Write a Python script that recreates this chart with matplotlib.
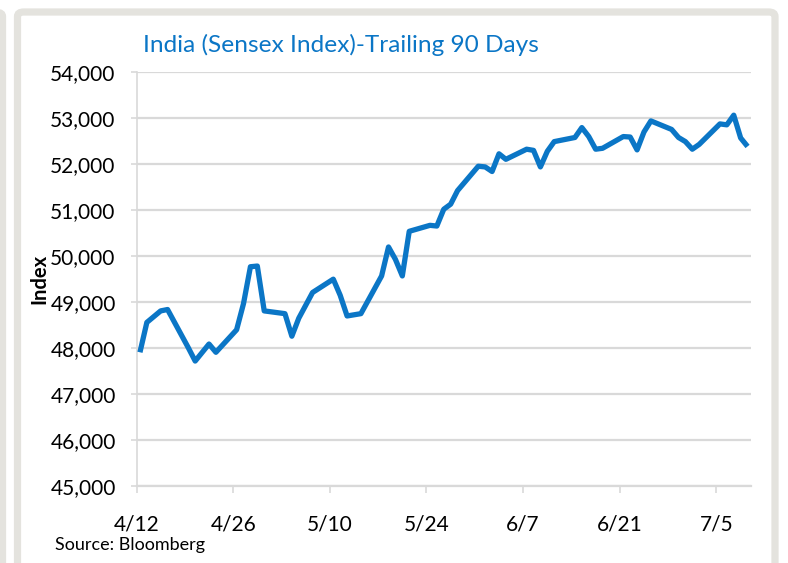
import matplotlib
matplotlib.use("Agg")
import matplotlib.pyplot as plt
from matplotlib.patches import FancyBboxPatch
import pandas as pd

# trading days (2021) and Sensex closes
days = ["04-12", "04-13", "04-15", "04-16", "04-19", "04-20", "04-22", "04-23",
        "04-26", "04-27", "04-28", "04-29", "04-30", "05-03", "05-04", "05-05",
        "05-06", "05-07", "05-10", "05-11", "05-12", "05-14", "05-17", "05-18",
        "05-19", "05-20", "05-21", "05-24", "05-25", "05-26", "05-27", "05-28",
        "05-31", "06-01", "06-02", "06-03", "06-04", "06-07", "06-08", "06-09",
        "06-10", "06-11", "06-14", "06-15", "06-16", "06-17", "06-18", "06-21",
        "06-22", "06-23", "06-24", "06-25", "06-28", "06-29", "06-30", "07-01",
        "07-02", "07-05", "07-06", "07-07", "07-08", "07-09"]
sensex = [47900, 48550, 48800, 48830, 48000, 47710, 48080, 47900,
          48390, 48960, 49760, 49775, 48800, 48740, 48250, 48640,
          48920, 49200, 49490, 49140, 48690, 48740, 49560, 50190,
          49920, 49560, 50530, 50660, 50645, 51010, 51120, 51415,
          51945, 51930, 51830, 52215, 52095, 52315, 52290, 51930,
          52270, 52480, 52570, 52785, 52590, 52315, 52335, 52590,
          52580, 52300, 52690, 52930, 52745, 52570, 52480, 52315,
          52420, 52865, 52845, 53055, 52560, 52375]
tick_days = ["04-12", "04-26", "05-10", "05-24", "06-07", "06-21", "07-05"]
tick_labels = ["4/12", "4/26", "5/10", "5/24", "6/7", "6/21", "7/5"]
y_ticks = [45000, 46000, 47000, 48000, 49000, 50000, 51000, 52000, 53000, 54000]

dates = pd.to_datetime(["2021-" + d for d in days])
ticks = pd.to_datetime(["2021-" + d for d in tick_days])

plt.rcParams['font.family'] = ['Lato', 'DejaVu Sans']

blue = '#0B76C6'
grid_gray = '#D9D9D9'
frame_gray = '#E4E3DE'

fig = plt.figure(figsize=(7.88, 5.63), dpi=100)
W, H = 788, 563

# panel frames
fig.patches.append(FancyBboxPatch((17.5 / W, -0.1), (775 - 17.5) / W, 1.1 - 12 / H,
                                  boxstyle="round,pad=0,rounding_size=0.008",
                                  transform=fig.transFigure, facecolor='white',
                                  edgecolor=frame_gray, linewidth=5.2, zorder=-2))
fig.patches.append(FancyBboxPatch((-20 / W, -0.1), 23 / W, 1.1 - 12 / H,
                                  boxstyle="round,pad=0,rounding_size=0.008",
                                  transform=fig.transFigure, facecolor='white',
                                  edgecolor=frame_gray, linewidth=4.5, zorder=-2))

ax = fig.add_axes([136.5 / W, (H - 485.7) / H, (751 - 136.5) / W, 414 / H])
ax.set_zorder(2)
ax.patch.set_alpha(0)

# Excel-style date axis: each point sits in the middle of its day
ax.plot(dates + pd.Timedelta(hours=12), sensex, color=blue, lw=3.8,
        solid_joinstyle='round', solid_capstyle='butt', zorder=3)

ax.set_xlim(pd.Timestamp("2021-04-12"), pd.Timestamp("2021-07-10"))
ax.set_ylim(45000, 54000)
ax.set_yticks(y_ticks)
ax.set_yticklabels([f"{v:,}" for v in y_ticks])
ax.set_xticks(ticks)
ax.set_xticklabels(tick_labels)

ax.grid(axis='y', color=grid_gray, lw=1.6)
ax.set_axisbelow(True)
for s in ['top', 'right']:
    ax.spines[s].set_visible(False)
ax.spines['left'].set_color(grid_gray)
ax.spines['left'].set_linewidth(1.2)
ax.spines['bottom'].set_color(grid_gray)
ax.spines['bottom'].set_linewidth(1.6)
ax.tick_params(axis='both', colors=grid_gray, labelcolor='black', labelsize=15,
               length=4, width=1.2)
ax.tick_params(axis='x', pad=16, length=5)
ax.tick_params(axis='y', pad=11)

ax.set_ylabel("Index", fontsize=14.5, fontweight='bold', labelpad=0.5)

fig.text(143 / W, 1 - 45 / H, "India (Sensex Index)-Trailing 90 Days",
         color=blue, fontsize=17.6, va='center', ha='left')
fig.text(55 / W, 1 - 545 / H, "Source: Bloomberg", fontsize=13,
         va='center', ha='left')

fig.savefig("out.png", dpi=100)
